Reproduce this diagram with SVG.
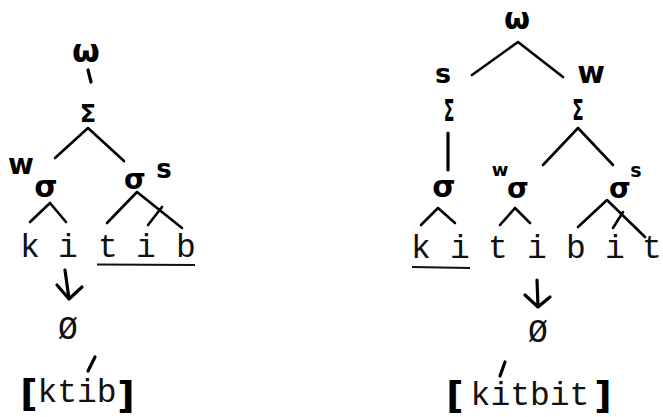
<svg xmlns="http://www.w3.org/2000/svg" width="663" height="417" viewBox="0 0 663 417">
<style>
.hw{font-family:"DejaVu Sans",sans-serif;font-weight:bold;fill:#000;text-anchor:middle}
.tw{font-family:"Liberation Mono",monospace;fill:#111;text-anchor:middle;font-size:33px}
.br{font-family:"DejaVu Sans",sans-serif;font-weight:bold;fill:#000;text-anchor:middle;font-size:38px}
.ln{stroke:#000;stroke-width:2.6;fill:none;stroke-linecap:round;stroke-linejoin:round}
.ul{stroke:#111;stroke-width:1.8;fill:none}
.hd{stroke:#000;stroke-width:3.2;fill:none;stroke-linecap:round;stroke-linejoin:round}
</style>
<rect width="663" height="417" fill="#fff"/>
<g id="connectors">
<path class="hd" d="M88,70 L91,82"/>
<path class="ln" d="M55,158 L88,128 L124,161"/>
<path class="ln" d="M30,222 L50,203 L66,222"/>
<path class="ln" d="M107,223 L137,192 L182,228 M162,207 L148,225"/>
<path class="ul" d="M97,264.5 L195,265"/>
<path class="hd" d="M65,270 L69,299 M57,285 L69,299 L82,287"/>
<path class="ln" d="M472,75 L518,42 L563,77"/>
<path class="hd" d="M448,133 L448,170"/>
<path class="ln" d="M543,165 L578,128 L613,165"/>
<path class="ln" d="M421,225 L438,208 L455,223"/>
<path class="ln" d="M500,225 L515,208 L530,223"/>
<path class="ln" d="M578,227 L607,200 L645,237 M623,212 L613,228"/>
<path class="ul" d="M412,267 L470,268"/>
<path class="hd" d="M537,280 L538,306 M525,295 L538,307 L550,297"/>
<path class="hd" d="M95,357 L88,371"/>
<path class="hd" d="M505,362 L500,376"/>
</g>
<g id="left-tree">
<g id="l-omega"><text class="hw" x="86" y="62" font-size="32">ω</text></g>
<g id="l-Sigma"><text class="hw" x="88" y="122" font-size="24">Σ</text></g>
<g id="l-w"><text class="hw" x="21" y="174" font-size="28">w</text></g>
<g id="l-s"><text class="hw" x="164" y="178" font-size="26">s</text></g>
<g id="l-sigma1"><text class="hw" x="46" y="197" font-size="30">σ</text></g>
<g id="l-sigma2"><text class="hw" x="135" y="189" font-size="28">σ</text></g>
<g id="l-segments">
<text class="tw" x="30" y="257">k</text>
<text class="tw" x="68" y="257">i</text>
<text class="tw" x="108" y="257">t</text>
<text class="tw" x="146" y="257">i</text>
<text class="tw" x="186" y="257">b</text>
</g>
<g id="l-null"><text class="tw" x="68" y="339">Ø</text></g>
<g id="l-output">
<text class="br" x="29" y="406">[</text>
<text class="tw" x="77" y="402">ktib</text>
<text class="br" x="126" y="408">]</text>
</g>
</g>
<g id="right-tree">
<g id="r-omega"><text class="hw" x="517" y="29" font-size="30">ω</text></g>
<g id="r-s"><text class="hw" x="443" y="83" font-size="27">s</text></g>
<g id="r-w"><text class="hw" x="591" y="83" font-size="30">w</text></g>
<g id="r-Sigma1"><text class="hw" transform="translate(449,121) scale(0.65,1.25)" x="0" y="0" font-size="24">Σ</text></g>
<g id="r-Sigma2"><text class="hw" transform="translate(578,120) scale(0.7,1.15)" x="0" y="0" font-size="24">Σ</text></g>
<g id="r-sigma1"><text class="hw" x="444" y="197" font-size="30">σ</text></g>
<g id="r-w2"><text class="hw" x="500" y="176" font-size="18">w</text></g>
<g id="r-sigma2"><text class="hw" x="518" y="198" font-size="28">σ</text></g>
<g id="r-s2"><text class="hw" x="636" y="177" font-size="19">s</text></g>
<g id="r-sigma3"><text class="hw" x="620" y="198" font-size="28">σ</text></g>
<g id="r-segments">
<text class="tw" x="421" y="258">k</text>
<text class="tw" x="460" y="258">i</text>
<text class="tw" x="498" y="258">t</text>
<text class="tw" x="537" y="258">i</text>
<text class="tw" x="576" y="258">b</text>
<text class="tw" x="615" y="258">i</text>
<text class="tw" x="652" y="258">t</text>
</g>
<g id="r-null"><text class="tw" x="538" y="342">Ø</text></g>
<g id="r-output">
<text class="br" x="455" y="408">[</text>
<text class="tw" x="530" y="405">kitbit</text>
<text class="br" x="603" y="408">]</text>
</g>
</g>
</svg>
